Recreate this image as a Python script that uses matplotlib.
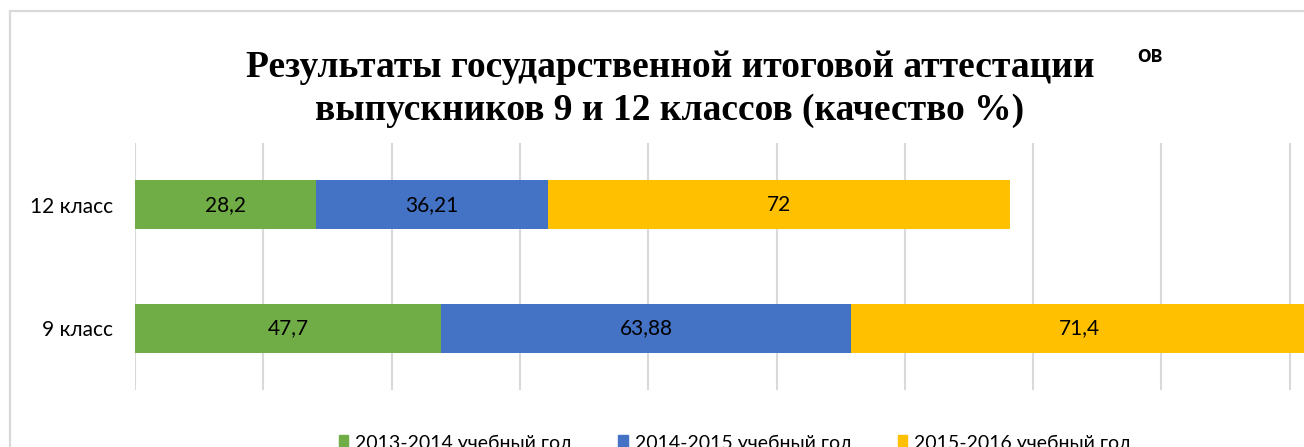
import matplotlib.pyplot as plt
from matplotlib.patches import Patch, Rectangle

# Данные
categories = ['9 класс', '12 класс']
series_names = ['2013-2014 учебный год', '2014-2015 учебный год', '2015-2016 учебный год']
values_2013 = [47.7, 28.2]
values_2014 = [63.88, 36.21]
values_2015 = [71.4, 72]
labels_2013 = ['47,7', '28,2']
labels_2014 = ['63,88', '36,21']
labels_2015 = ['71,4', '72']
colors = ['#70AD47', '#4472C4', '#FFC000']

label_font = ['Lato', 'DejaVu Sans']

fig = plt.figure(figsize=(13.04, 4.47), dpi=100)

# рамка области диаграммы (обрезана справа и снизу)
fig.patches.append(Rectangle((10 / 1304, -0.2), 1.2, 1 - 11 / 447 + 0.2,
                             transform=fig.transFigure, fill=False,
                             edgecolor='#d9d9d9', linewidth=1.6))

ax = fig.add_axes([135 / 1304, 1 - 390 / 447, 200 * 6.415 / 1304, 247 / 447])

y = range(len(categories))
left = [0, 0]
all_vals = [values_2013, values_2014, values_2015]
all_labels = [labels_2013, labels_2014, labels_2015]
for vals, labs, col in zip(all_vals, all_labels, colors):
    bars = ax.barh(y, vals, left=left, height=0.4, color=col, zorder=3)
    ax.bar_label(bars, labels=labs, label_type='center', fontsize=15,
                 family=label_font, color='black')
    left = [l + v for l, v in zip(left, vals)]

ax.set_xlim(0, 200)
ax.set_ylim(-0.5, 1.5)
ax.set_xticks(range(0, 201, 20))
ax.set_xticklabels([])
ax.set_yticks(list(y))
ax.set_yticklabels(categories, fontsize=15, family=label_font, color='black')
ax.tick_params(axis='both', length=0)
ax.tick_params(axis='y', pad=16)
ax.grid(axis='x', color='#d9d9d9', linewidth=1.5, zorder=0)
for s in ax.spines.values():
    s.set_visible(False)

# Заголовок
fig.text(670 / 1304, 1 - 89 / 447,
         'Результаты государственной итоговой аттестации\nвыпускников 9 и 12 классов (качество %)',
         ha='center', va='center', fontsize=27, fontweight='bold',
         family='Liberation Serif', linespacing=1.3)
fig.text(1150 / 1304, 1 - 55 / 447, 'ов', ha='center', va='center',
         fontsize=17, fontweight='bold', family=label_font)

handles = [Patch(color=c) for c in colors]
fig.legend(handles, series_names, loc='center', ncol=3,
           bbox_to_anchor=(735 / 1304, 1 - 443 / 447), frameon=False,
           prop={'family': label_font, 'size': 14},
           handlelength=0.5, handleheight=0.75, handletextpad=0.35,
           columnspacing=2.35)

fig.savefig('out.png', dpi=100)
